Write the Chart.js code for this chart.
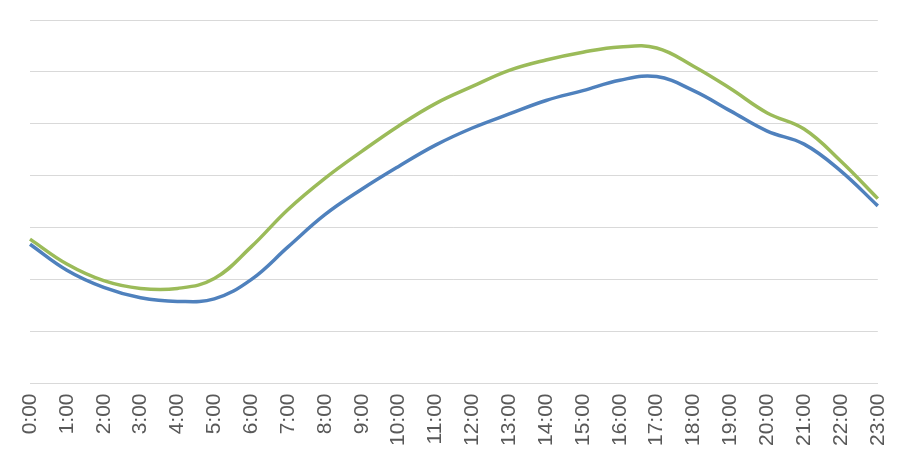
<!DOCTYPE html>
<html>
<head>
<meta charset="utf-8">
<script src="https://cdn.jsdelivr.net/npm/chart.js@4/dist/chart.umd.min.js"></script>
<style>
  html, body { margin: 0; padding: 0; background: #fff; }
  #wrap { width: 905px; height: 454px; }
</style>
</head>
<body>
<div id="wrap"><canvas id="chart"></canvas></div>
<script>
const hours = ['0:00','1:00','2:00','3:00','4:00','5:00','6:00','7:00','8:00','9:00','10:00','11:00',
  '12:00','13:00','14:00','15:00','16:00','17:00','18:00','19:00','20:00','21:00','22:00','23:00'];
const blueSeries = [2.68, 2.18, 1.85, 1.65, 1.58, 1.63, 2.0, 2.63, 3.25, 3.74, 4.18, 4.59,
  4.92, 5.19, 5.45, 5.64, 5.84, 5.91, 5.64, 5.25, 4.86, 4.61, 4.09, 3.42];
const greenSeries = [2.78, 2.30, 1.98, 1.83, 1.83, 2.02, 2.63, 3.35, 3.95, 4.47, 4.96, 5.39,
  5.72, 6.03, 6.23, 6.38, 6.48, 6.46, 6.11, 5.68, 5.21, 4.90, 4.28, 3.56];

new Chart(document.getElementById('chart'), {
    type: 'line',
    data: {
        labels: hours,
        datasets: [{
            data: blueSeries,
            borderColor: '#4F81BD',
            borderWidth: 3.5,
            pointRadius: 0,
            tension: 0.4
        }, {
            data: greenSeries,
            borderColor: '#9BBB59',
            borderWidth: 3.5,
            pointRadius: 0,
            tension: 0.4
        }]
    },
    options: {
        responsive: true,
        maintainAspectRatio: false,
        animation: false,
        layout: { padding: { left: 30, right: 6, top: 20, bottom: 6 } },
        plugins: { legend: { display: false }, tooltip: { enabled: false } },
        scales: {
            x: {
                offset: false,
                grid: { display: false },
                border: { color: '#d9d9d9' },
                ticks: {
                    color: '#595959',
                    font: { family: "'Liberation Sans', sans-serif", size: 21 },
                    minRotation: 90,
                    maxRotation: 90,
                    autoSkip: false,
                    padding: 2
                }
            },
            y: {
                min: 0,
                max: 7,
                grid: { color: '#d9d9d9', drawTicks: false },
                border: { display: false },
                ticks: { display: false, stepSize: 1 }
            }
        }
    }
});
</script>
</body>
</html>
